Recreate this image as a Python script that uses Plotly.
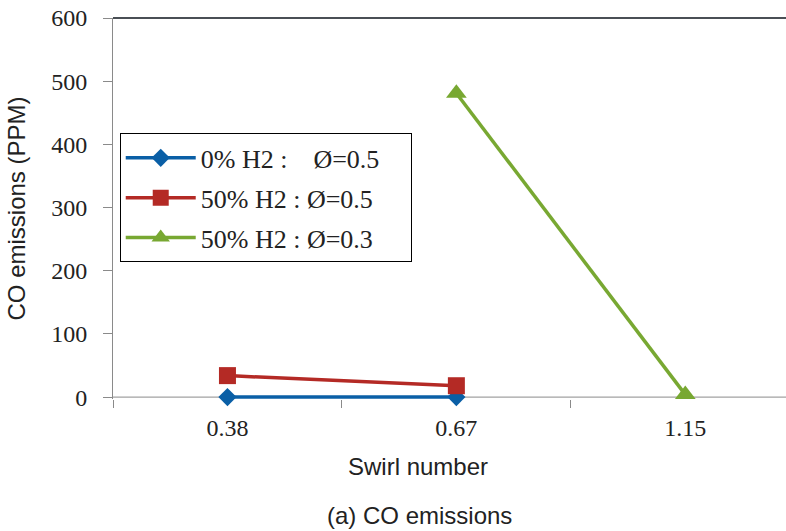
import plotly.graph_objects as go

categories = ["0.38", "0.67", "1.15"]
blue_x = ["0.38", "0.67"]
blue_y = [0, 0]
red_x = ["0.38", "0.67"]
red_y = [34, 18]
green_x = ["0.67", "1.15"]
green_y = [481, 4]

nb = "\u00a0"
names = ["0%" + nb + "H2" + nb + ":" + nb * 4 + "Ø=0.5" + nb * 4,
         "50%" + nb + "H2" + nb + ":" + nb + "Ø=0.5" + nb * 4,
         "50%" + nb + "H2" + nb + ":" + nb + "Ø=0.3" + nb * 4]
y_ticks = [0, 100, 200, 300, 400, 500, 600]

serif = "Liberation Serif"
sans = "Liberation Sans"

fig = go.Figure()
fig.add_trace(go.Scatter(x=blue_x, y=blue_y, mode="lines+markers", name=names[0], legendgroup="a",
                         cliponaxis=False,
                         line=dict(color="#0A5FA6", width=3.5),
                         marker=dict(symbol="diamond", size=14, color="#0A5FA6")))
fig.add_trace(go.Scatter(x=red_x, y=red_y, mode="lines+markers", name=names[1], legendgroup="b",
                         cliponaxis=False,
                         line=dict(color="#B42A25", width=3.5),
                         marker=dict(symbol="square", size=17, color="#B42A25")))
fig.add_trace(go.Scatter(x=green_x, y=green_y, mode="lines+markers", name=names[2], legendgroup="c",
                         cliponaxis=False,
                         line=dict(color="#78A832", width=3.5),
                         marker=dict(symbol="triangle-up", size=18, color="#78A832")))

fig.add_shape(type="line", xref="paper", yref="paper", x0=0, x1=1, y0=1, y1=1,
              line=dict(color="#4A4F55", width=2))
fig.add_shape(type="line", xref="paper", yref="y", x0=0, x1=1, y0=0, y1=0,
              line=dict(color="#8A8A8A", width=1), layer="below")

fig.update_layout(
    width=786, height=531,
    margin=dict(l=113, r=0, t=18, b=132),
    plot_bgcolor="white", paper_bgcolor="white",
    showlegend=True,
    legend=dict(x=0.01, y=0.697, xanchor="left", yanchor="top",
                bordercolor="black", borderwidth=1, bgcolor="white",
                font=dict(family=serif, size=26, color="#222"),
                traceorder="grouped", tracegroupgap=3, itemwidth=70),
    xaxis=dict(type="category", categoryorder="array", categoryarray=categories,
               range=[-0.5, 2.44], showgrid=False, zeroline=False,
               showline=False, ticks="outside", tickson="boundaries", ticklen=8,
               tickcolor="#8A8A8A", tickwidth=1,
               tickfont=dict(family=serif, size=24, color="#222"), ticklabelstandoff=12),
    yaxis=dict(range=[-3, 600], tickvals=y_ticks, showgrid=False, zeroline=False,
               showline=True, linecolor="#8A8A8A", linewidth=1,
               ticks="outside", ticklen=9, tickcolor="#8A8A8A",
               tickfont=dict(family=serif, size=24, color="#222"), ticklabelstandoff=11,
               title=dict(text="CO emissions (PPM)", font=dict(family=sans, size=24, color="#222"), standoff=18)),
)

fig.add_annotation(text="Swirl number", xref="paper", yref="paper", x=(418 - 113) / 673,
                   y=-(466 - 399) / 381, yanchor="middle",
                   showarrow=False, font=dict(family=sans, size=24, color="#222"))
fig.add_annotation(text="(a) CO emissions", xref="paper", yref="paper", x=(419 - 113) / 673,
                   y=-(515 - 399) / 381, yanchor="middle",
                   showarrow=False, font=dict(family=sans, size=24, color="#222"))

fig.write_html("out.html")
